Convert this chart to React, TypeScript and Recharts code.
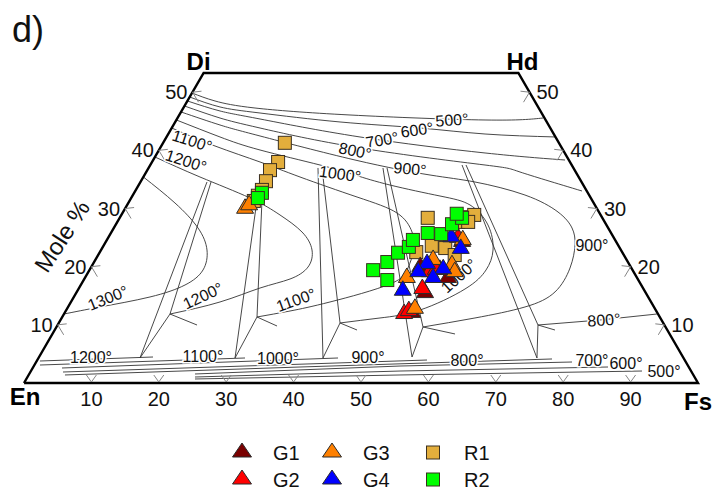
import React from 'react';
import { ScatterChart, Scatter, XAxis, YAxis } from 'recharts';

const FONT = '"Liberation Sans", Arial, Helvetica, sans-serif';
const LINE = '#333333';
const TICK = '#858585';
const W = 715;
const H = 493;
const MARGIN = { top: 73, right: 17, bottom: 110, left: 24 };
const WO_TOP = 53.3;

type Pt = { x: number; y: number; [k: string]: any };
const pts = (a: number[][]): Pt[] => a.map(([x, y]) => ({ x, y }));

// x = position on the En–Fs scale, y = Wo mole %
const outline = [[0, 0], [100, 0], [100 - WO_TOP / 2, WO_TOP], [WO_TOP / 2, WO_TOP], [0, 0]];

// augite isotherms
const iso500 = [[24.93, 49.86], [28.34, 48.49], [34.27, 47.28], [48.37, 46.08], [68.4, 45.22], [77.0, 45.56]];
const iso600 = [[24.59, 49.17], [29.08, 47.46], [35.02, 46.42], [46.89, 44.88], [58.76, 43.84], [68.4, 42.81], [78.9, 42.3]];
const iso700 = [[24.25, 48.49], [29.08, 46.77], [35.02, 45.39], [49.85, 42.3], [68.4, 39.55], [80.27, 38.34]];
const iso800 = [[23.8, 47.63], [29.08, 45.56], [35.02, 43.84], [49.85, 40.41], [68.4, 37.48], [73.59, 36.28], [82.79, 33.01]];
const loop900 = [[23.3, 46.6], [29.08, 44.36], [35.02, 42.47], [49.11, 38.34], [60.24, 35.76], [66.91, 34.56], [74.33, 32.32], [79.23, 29.4], [81.31, 26.65], [81.75, 23.73], [81.01, 19.77], [78.78, 15.65], [74.33, 13.07], [66.91, 11.18], [59.2, 9.63]];
const loop1000 = [[22.61, 45.22], [29.08, 42.3], [35.02, 40.06], [43.92, 37.48], [49.11, 35.76], [54.3, 34.04], [61.72, 32.15], [66.17, 30.61], [68.84, 27.17], [69.59, 22.87], [68.55, 19.43], [65.43, 16.16], [58.76, 12.55], [52.82, 11.18], [46.89, 10.32]];
const loop1100 = [[21.92, 43.84], [28.34, 40.75], [35.02, 38.0], [40.95, 35.42], [49.41, 31.98], [55.34, 29.23], [57.57, 25.96], [57.86, 22.87], [56.97, 19.77], [54.3, 17.02], [45.4, 13.93], [39.47, 12.38], [34.57, 11.35]];
const loop1200 = [[19.43, 38.86], [26.11, 35.42], [33.53, 31.81], [37.98, 28.89], [41.25, 25.96], [42.73, 22.87], [42.14, 19.94], [39.47, 17.88], [35.02, 16.33], [29.08, 13.93], [21.66, 11.86]];
const loop1300 = [[17.71, 35.42], [22.4, 30.95], [25.82, 26.65], [27.15, 22.87], [26.56, 19.43], [23.89, 16.85], [18.69, 14.79], [11.28, 13.07], [5.93, 11.86]];
const lower800 = [[76.26, 9.97], [85.46, 10.83], [93.9, 11.86]];

// pigeonite isotherms along the bottom
const pig1200 = [[2.37, 3.78], [19.14, 4.47]];
const pig1100 = [[2.37, 3.09], [32.79, 4.3]];
const pig1000 = [[5.64, 2.58], [46.59, 4.3]];
const pig900 = [[5.79, 1.89], [59.79, 3.95]];
const pig800 = [[6.08, 1.38], [40.95, 2.75], [78.34, 4.13]];
const pig700 = [[25.37, 1.55], [55.79, 2.92], [81.31, 3.61]];
const pig600 = [[25.37, 1.03], [55.79, 2.06], [86.65, 2.75]];
const pig500 = [[25.37, 0.69], [55.79, 1.38], [91.69, 2.06]];

// tie / boundary lines
const tie1200a = [[27.15, 34.56], [17.21, 4.3]];
const tie1200b = [[27.75, 34.56], [21.66, 11.86], [17.21, 4.3]];
const tie1200c = [[21.66, 11.86], [25.67, 9.97]];
const tie1100a = [[34.57, 31.46], [31.31, 4.3]];
const tie1100b = [[35.31, 31.46], [34.57, 11.35], [31.31, 4.3]];
const tie1100c = [[34.57, 11.35], [37.54, 9.8]];
const tie1000a = [[43.62, 36.97], [44.36, 4.3]];
const tie1000b = [[44.21, 36.97], [46.89, 10.32], [44.36, 4.3]];
const tie1000c = [[46.89, 10.32], [49.41, 9.11]];
const tie900a = [[53.26, 36.97], [57.57, 4.47]];
const tie900b = [[53.86, 36.97], [59.2, 9.63], [57.57, 4.47]];
const tie900c = [[59.2, 9.63], [63.95, 8.43]];
const tie800a = [[64.99, 37.48], [76.11, 4.3]];
const tie800b = [[65.58, 37.48], [76.26, 9.97], [76.11, 4.3]];
const tie800c = [[76.26, 9.97], [78.78, 9.11]];

const smoothCurves = [iso500, iso600, iso700, iso800, loop900, loop1000, loop1100, loop1200, loop1300];
const straightLines = [lower800, pig1200, pig1100, pig1000, pig900, pig800, pig700, pig600, pig500,
  tie1200a, tie1200b, tie1200c, tie1100a, tie1100b, tie1100c, tie1000a, tie1000b, tie1000c,
  tie900a, tie900b, tie900c, tie800a, tie800b, tie800c];

// isotherm labels: text, x, y, rotation
const isoLabels: [string, number, number, number][] = [
  ['500°', 63.5, 45.22, -4], ['600°', 58.31, 43.5, -8], ['700°', 53.12, 41.78, -10],
  ['800°', 49.11, 39.89, 12], ['900°', 57.27, 36.79, 5], ['1000°', 46.89, 35.94, 8],
  ['1100°', 24.93, 41.61, 18], ['1200°', 24.04, 38.17, 18],
  ['1300°', 12.46, 14.61, -22], ['1200°', 26.56, 14.96, -25], ['1100°', 40.36, 14.27, -20],
  ['1000°', 64.54, 18.4, -42], ['900°', 84.27, 23.56, 0], ['800°', 86.05, 10.83, -4],
  ['1200°', 9.94, 4.47, 0], ['1100°', 26.56, 4.64, 0], ['1000°', 37.69, 4.13, 0],
  ['900°', 51.04, 4.3, 0], ['800°', 65.73, 3.95, 0], ['700°', 84.27, 3.95, 0],
  ['600°', 89.32, 3.27, 0], ['500°', 94.96, 2.06, 0],
];

const bottomTicks = [10, 20, 30, 40, 50, 60, 70, 80, 90];
const sideTicks = [10, 20, 30, 40, 50];
const vertices = [
  { name: 'Di', x: WO_TOP / 2, y: WO_TOP },
  { name: 'Hd', x: 100 - WO_TOP / 2, y: WO_TOP },
  { name: 'En', x: 0, y: 0 },
  { name: 'Fs', x: 100, y: 0 },
];
const vertexOffset: Record<string, [number, number]> = { Di: [-5, -12], Hd: [4, -12], En: [1, 13], Fs: [0, 18] };

// samples
const g1 = [[58.8, 20.3], [59.5, 15.8], [62.9, 18.4], [57.6, 12.4], [65.0, 24.6], [61.7, 19.8]];
const g2 = [[56.4, 12.2], [57.1, 12.7], [59.1, 16.5], [64.4, 25.3], [60.2, 19.4], [61.1, 19.8]];
const g3 = [[32.8, 30.3], [33.4, 30.9], [56.8, 18.4], [58.0, 13.1], [63.5, 20.6], [60.7, 21.5], [65.1, 24.9], [63.9, 19.4]];
const g4 = [[56.2, 16.2], [59.8, 20.8], [62.2, 19.9], [60.7, 18.4], [64.8, 23.4], [58.5, 19.4], [63.4, 25.4]];
const r1 = [[38.7, 41.3], [37.7, 38.0], [36.5, 36.6], [35.9, 34.7], [35.3, 33.2], [34.7, 32.2], [34.1, 31.3],
  [59.9, 28.4], [60.5, 23.6], [62.5, 23.2], [58.2, 22.5], [65.4, 28.5], [66.8, 28.9], [64.4, 27.7], [65.9, 27.7], [63.9, 22.0]];
const r2 = [[35.3, 32.7], [34.7, 31.8], [51.8, 19.4], [53.9, 20.8], [53.9, 17.7], [55.5, 22.4], [57.1, 23.4], [57.7, 24.6],
  [59.9, 25.8], [61.9, 25.6], [63.5, 27.3], [65.0, 28.4], [64.2, 29.1]];

const COLORS = { G1: '#7a0000', G2: '#ff0000', G3: '#ff8000', G4: '#0000ff', R1: '#e3ae3c', R2: '#00ff00' };
const series = [
  { name: 'R1', data: r1, kind: 'sq' },
  { name: 'G1', data: g1, kind: 'tri' },
  { name: 'G2', data: g2, kind: 'tri' },
  { name: 'G3', data: g3, kind: 'tri' },
  { name: 'G4', data: g4, kind: 'tri' },
  { name: 'R2', data: r2, kind: 'sq' },
];
const legendOrder = [['G1', 'tri'], ['G3', 'tri'], ['R1', 'sq'], ['G2', 'tri'], ['G4', 'tri'], ['R2', 'sq']];

const Empty = () => <g />;

const marker = (kind: string, color: string) => (p: any) => {
  const { cx, cy } = p;
  if (kind === 'tri') {
    return <polygon points={`${cx},${cy - 8} ${cx - 8.5},${cy + 6.5} ${cx + 8.5},${cy + 6.5}`} fill={color} stroke="#2b2b2b" strokeWidth={1} />;
  }
  return <rect x={cx - 6.5} y={cy - 6.5} width={13} height={13} fill={color} stroke="#3b3020" strokeWidth={1} />;
};

const BottomTick = (p: any) => {
  const { cx, cy, payload } = p;
  return (
    <g>
      <path d={`M${cx - 5},${cy - 8} L${cx},${cy - 1} L${cx + 5},${cy - 8}`} stroke={TICK} fill="none" strokeWidth={1} />
      <text x={cx} y={cy + 16} textAnchor="middle" dominantBaseline="central" fontSize={20} fontFamily={FONT} fill="#111">{payload.label}</text>
    </g>
  );
};
const LeftTick = (p: any) => {
  const { cx, cy, payload } = p;
  return (
    <g>
      <path d={`M${cx + 9},${cy - 1} L${cx},${cy} L${cx + 6},${cy + 10}`} stroke={TICK} fill="none" strokeWidth={1} />
      <text x={cx - 5} y={cy} textAnchor="end" dominantBaseline="central" fontSize={20} fontFamily={FONT} fill="#111">{payload.label}</text>
    </g>
  );
};
const RightTick = (p: any) => {
  const { cx, cy, payload } = p;
  return (
    <g>
      <path d={`M${cx - 9},${cy - 1} L${cx},${cy} L${cx - 6},${cy + 10}`} stroke={TICK} fill="none" strokeWidth={1} />
      <text x={cx + 7} y={cy} textAnchor="start" dominantBaseline="central" fontSize={20} fontFamily={FONT} fill="#111">{payload.label}</text>
    </g>
  );
};
const IsoLabel = (p: any) => {
  const { cx, cy, payload } = p;
  return (
    <text x={cx} y={cy} transform={`rotate(${payload.a} ${cx} ${cy})`} textAnchor="middle" dominantBaseline="central"
      fontSize={16} fontFamily={FONT} fill="#111" stroke="#fff" strokeWidth={3} paintOrder="stroke">{payload.t}</text>
  );
};
const VertexLabel = (p: any) => {
  const { cx, cy, payload } = p;
  const [dx, dy] = vertexOffset[payload.name];
  return (
    <text x={cx + dx} y={cy + dy} textAnchor="middle" dominantBaseline="central" fontSize={24} fontWeight="bold" fontFamily={FONT} fill="#000">{payload.name}</text>
  );
};

const legendCols = [242, 332, 433];
const legendRows = [451, 478];

export default function App() {
  return (
    <div style={{ position: 'relative', width: W, height: H, fontFamily: FONT, background: '#fff' }}>
      <style>{'body{margin:0;background:#fff}'}</style>
      <ScatterChart width={W} height={H} margin={MARGIN}>
        <XAxis type="number" dataKey="x" domain={[0, 100]} hide />
        <YAxis type="number" dataKey="y" domain={[0, WO_TOP]} hide />
        {smoothCurves.map((c, i) => (
          <Scatter key={`c${i}`} data={pts(c)} line={{ stroke: LINE, strokeWidth: 0.9 }} lineJointType="natural" shape={Empty} isAnimationActive={false} />
        ))}
        {straightLines.map((c, i) => (
          <Scatter key={`s${i}`} data={pts(c)} line={{ stroke: LINE, strokeWidth: 0.9 }} lineJointType="linear" shape={Empty} isAnimationActive={false} />
        ))}
        <Scatter data={pts(outline)} line={{ stroke: '#000', strokeWidth: 2.4 }} lineJointType="linear" shape={Empty} isAnimationActive={false} />
        <Scatter data={bottomTicks.map((v) => ({ x: v, y: 0, label: String(v) }))} shape={BottomTick} isAnimationActive={false} />
        <Scatter data={sideTicks.map((v) => ({ x: v / 2, y: v, label: String(v) }))} shape={LeftTick} isAnimationActive={false} />
        <Scatter data={sideTicks.map((v) => ({ x: 100 - v / 2, y: v, label: String(v) }))} shape={RightTick} isAnimationActive={false} />
        <Scatter data={isoLabels.map(([t, x, y, a]) => ({ x, y, t, a }))} shape={IsoLabel} isAnimationActive={false} />
        <Scatter data={vertices} shape={VertexLabel} isAnimationActive={false} />
        {series.map((s) => (
          <Scatter key={s.name} name={s.name} data={pts(s.data)} shape={marker(s.kind, (COLORS as any)[s.name])} isAnimationActive={false} />
        ))}
      </ScatterChart>
      <svg width={W} height={H} style={{ position: 'absolute', left: 0, top: 0, pointerEvents: 'none' }}>
        <text x={12} y={42} fontSize={36} fontFamily={FONT} fill="#111">d)</text>
        <text x={62} y={236} fontSize={24} fontFamily={FONT} fill="#111" textAnchor="middle" dominantBaseline="central" transform="rotate(-57 62 236)">Mole %</text>
        {legendOrder.map(([name, kind], i) => {
          const cx = legendCols[i % 3];
          const cy = legendRows[Math.floor(i / 3)];
          const color = (COLORS as any)[name];
          return (
            <g key={name}>
              {kind === 'tri' ? (
                <polygon points={`${cx},${cy - 8} ${cx - 9.5},${cy + 6} ${cx + 9.5},${cy + 6}`} fill={color} stroke="#2b2b2b" strokeWidth={1} />
              ) : (
                <rect x={cx - 6.5} y={cy - 5} width={13} height={13} fill={color} stroke="#3b3020" strokeWidth={1} />
              )}
              <text x={cx + 31} y={cy + 2} fontSize={20} fontFamily={FONT} fill="#111" dominantBaseline="central">{name}</text>
            </g>
          );
        })}
      </svg>
    </div>
  );
}
